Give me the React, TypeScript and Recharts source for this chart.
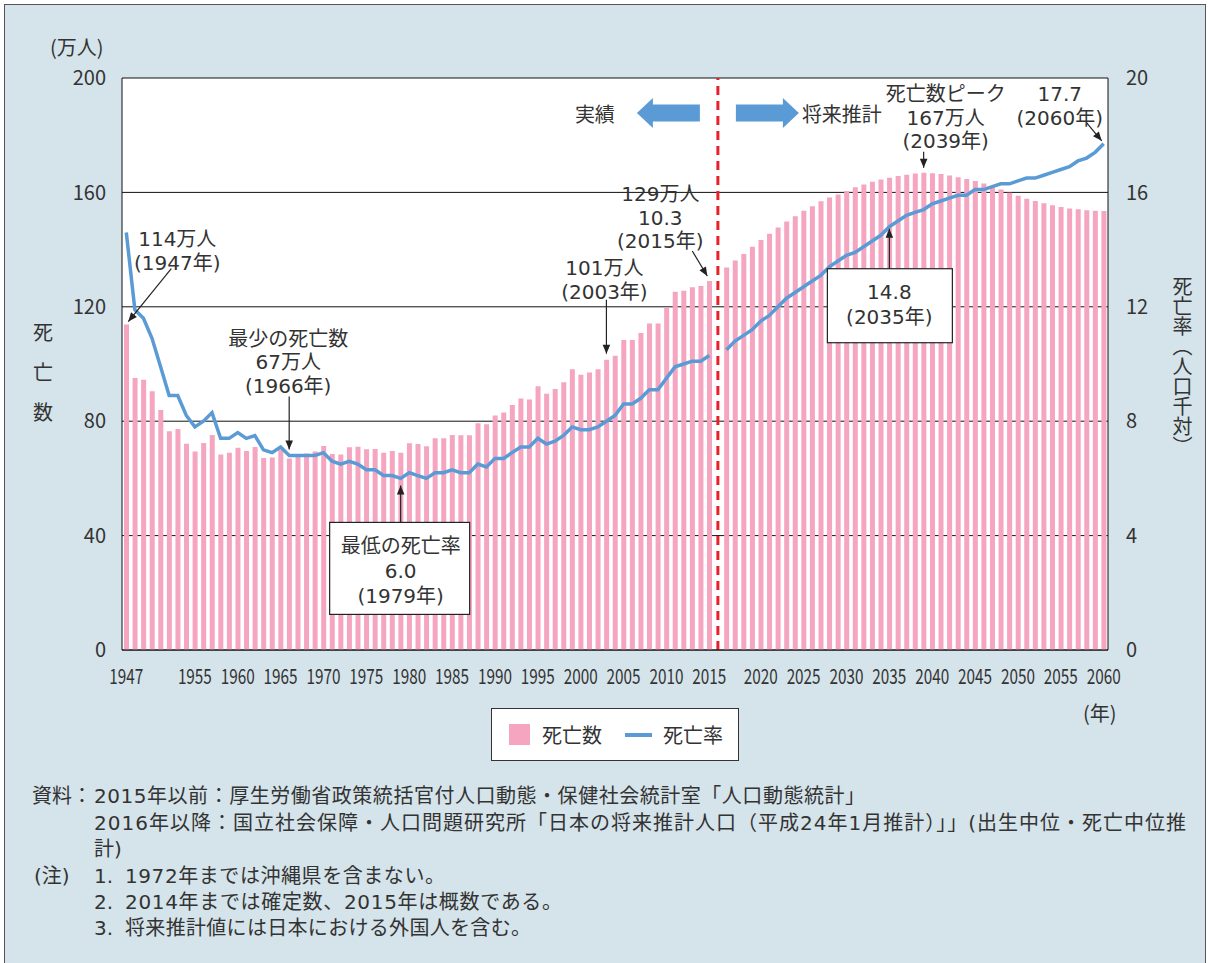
import React from 'react';
import { ComposedChart, Bar, Line, XAxis, YAxis, CartesianGrid, ReferenceLine, ReferenceDot } from 'recharts';

const FONT = '"Noto Sans CJK JP", "Noto Sans", sans-serif';
const LFONT = '"DejaVu Sans", "Noto Sans CJK JP", sans-serif';
const TXT = '#333';

// Actual years (1947-2015) and projection years (2016-2060)
const actualYears = [
  1947, 1948, 1949, 1950, 1951, 1952, 1953, 1954, 1955, 1956, 1957, 1958, 1959, 1960, 1961, 1962, 1963, 1964, 1965, 1966,
  1967, 1968, 1969, 1970, 1971, 1972, 1973, 1974, 1975, 1976, 1977, 1978, 1979, 1980, 1981, 1982, 1983, 1984, 1985, 1986,
  1987, 1988, 1989, 1990, 1991, 1992, 1993, 1994, 1995, 1996, 1997, 1998, 1999, 2000, 2001, 2002, 2003, 2004, 2005, 2006,
  2007, 2008, 2009, 2010, 2011, 2012, 2013, 2014, 2015,
];
const projYears = [
  2016, 2017, 2018, 2019, 2020, 2021, 2022, 2023, 2024, 2025, 2026, 2027, 2028, 2029, 2030, 2031, 2032, 2033, 2034, 2035,
  2036, 2037, 2038, 2039, 2040, 2041, 2042, 2043, 2044, 2045, 2046, 2047, 2048, 2049, 2050, 2051, 2052, 2053, 2054, 2055,
  2056, 2057, 2058, 2059, 2060,
];
const GAP = '|';

// 死亡数 (万人)
const deathsActual = [
  113.8, 95.1, 94.5, 90.5, 83.9, 76.5, 77.3, 72.1, 69.4, 72.4, 75.2, 68.4, 69.0, 70.7, 69.6, 71.0, 67.1, 67.3, 70.0, 67.0,
  67.5, 68.7, 69.4, 71.3, 68.5, 68.4, 70.9, 71.1, 70.2, 70.3, 69.0, 69.6, 69.0, 72.3, 72.0, 71.2, 74.0, 74.0, 75.2, 75.1,
  75.1, 79.3, 78.9, 82.0, 83.0, 85.7, 87.9, 87.6, 92.2, 89.6, 91.3, 93.6, 98.2, 96.2, 97.0, 98.2, 101.5, 102.9, 108.4, 108.4,
  110.8, 114.2, 114.2, 119.7, 125.3, 125.6, 126.8, 127.3, 129.0,
];
const deathsProj = [
  133.7, 136.2, 138.5, 141.0, 143.4, 145.5, 147.7, 149.8, 151.7, 153.6, 155.2, 156.9, 158.2, 159.3, 160.5, 161.8, 162.8, 163.7, 164.5, 165.1,
  165.7, 166.2, 166.6, 166.9, 166.7, 166.4, 165.9, 165.3, 164.7, 164.0, 163.1, 162.1, 161.0, 159.9, 158.8, 157.8, 157.0, 156.2, 155.5, 154.9,
  154.4, 154.1, 153.8, 153.6, 153.5,
];

// 死亡率 (人口千対)
const rateActual = [
  14.6, 11.9, 11.6, 10.9, 9.9, 8.9, 8.9, 8.2, 7.8, 8.0, 8.3, 7.4, 7.4, 7.6, 7.4, 7.5, 7.0, 6.9, 7.1, 6.8,
  6.8, 6.8, 6.8, 6.9, 6.6, 6.5, 6.6, 6.5, 6.3, 6.3, 6.1, 6.1, 6.0, 6.2, 6.1, 6.0, 6.2, 6.2, 6.3, 6.2,
  6.2, 6.5, 6.4, 6.7, 6.7, 6.9, 7.1, 7.1, 7.4, 7.2, 7.3, 7.5, 7.8, 7.7, 7.7, 7.8, 8.0, 8.2, 8.6, 8.6,
  8.8, 9.1, 9.1, 9.5, 9.9, 10.0, 10.1, 10.1, 10.3,
];
const rateProj = [
  10.5, 10.8, 11.0, 11.2, 11.5, 11.7, 12.0, 12.3, 12.5, 12.7, 12.9, 13.1, 13.4, 13.6, 13.8, 13.9, 14.1, 14.3, 14.5, 14.8,
  15.0, 15.2, 15.3, 15.4, 15.6, 15.7, 15.8, 15.9, 15.9, 16.1, 16.1, 16.2, 16.3, 16.3, 16.4, 16.5, 16.5, 16.6, 16.7, 16.8,
  16.9, 17.1, 17.2, 17.4, 17.7,
];

const xTickLabels = [
  '1947', '1955', '1960', '1965', '1970', '1975', '1980', '1985', '1990', '1995', '2000', '2005', '2010', '2015',
  '2020', '2025', '2030', '2035', '2040', '2045', '2050', '2055', '2060',
];
const leftTicks = [0, 40, 80, 120, 160, 200];
const rightTicks = [0, 4, 8, 12, 16, 20];

const data = [
  ...actualYears.map((y, i) => ({ year: String(y), deaths: deathsActual[i], rateA: rateActual[i], rateP: null as number | null })),
  { year: GAP, deaths: null as number | null, rateA: null as number | null, rateP: null as number | null },
  ...projYears.map((y, i) => ({ year: String(y), deaths: deathsProj[i], rateA: null as number | null, rateP: rateProj[i] })),
];

const XTick = (props: any) => {
  const { x, y, payload } = props;
  if (!xTickLabels.includes(payload.value)) return <g />;
  return (
    <text x={x} y={y + 34} textAnchor="middle" fontSize={21} fill={TXT} fontFamily={FONT}
      textLength={34} lengthAdjust="spacingAndGlyphs">{payload.value}</text>
  );
};

type AnnoCfg = {
  lines: string[];
  tx: number; ty: number; lh: number;
  arrow: [number, number, number, number];
  box?: [number, number, number, number];
};

const arrowHead = (x1: number, y1: number, x2: number, y2: number) => {
  const a = Math.atan2(y2 - y1, x2 - x1);
  const L = 9, W = 3.8;
  const bx = x2 - L * Math.cos(a), by = y2 - L * Math.sin(a);
  const px = -Math.sin(a) * W, py = Math.cos(a) * W;
  return `${x2},${y2} ${bx + px},${by + py} ${bx - px},${by - py}`;
};

const makeAnno = (c: AnnoCfg) => (p: any) => {
  const { cx, cy } = p;
  const [ax1, ay1, ax2, ay2] = c.arrow;
  return (
    <g>
      {c.box && (
        <rect x={cx + c.box[0]} y={cy + c.box[1]} width={c.box[2]} height={c.box[3]} fill="#fff" stroke="#222" strokeWidth={1.2} />
      )}
      <line x1={cx + ax1} y1={cy + ay1} x2={cx + ax2} y2={cy + ay2} stroke="#222" strokeWidth={1.2} />
      <polygon points={arrowHead(cx + ax1, cy + ay1, cx + ax2, cy + ay2)} fill="#222" />
      {c.lines.map((t, i) => (
        <text key={i} x={cx + c.tx} y={cy + c.ty + i * c.lh + 7} textAnchor="middle" fontSize={20} fill={TXT} fontFamily={LFONT}>{t}</text>
      ))}
    </g>
  );
};

const annos: { x: string; y: number; axis: string; cfg: AnnoCfg }[] = [
  { x: '1947', y: deathsActual[0], axis: 'left', cfg: { lines: ['114万人', '(1947年)'], tx: 51, ty: -85.25, lh: 23.5, arrow: [45, -56, 2, -3] } },
  { x: '1966', y: deathsActual[19], axis: 'left', cfg: { lines: ['最少の死亡数', '67万人', '(1966年)'], tx: -1, ty: -119.5, lh: 23.5, arrow: [0, -62, 0, -9] } },
  { x: '1979', y: rateActual[32], axis: 'right', cfg: { lines: ['最低の死亡率', '6.0', '(1979年)'], tx: 0, ty: 68, lh: 25, arrow: [0, 44, 0, 7], box: [-71, 44, 140, 92] } },
  { x: '2003', y: deathsActual[56], axis: 'left', cfg: { lines: ['101万人', '(2003年)'], tx: -2, ty: -91.25, lh: 23.5, arrow: [0, -60, 0, -6] } },
  { x: '2015', y: deathsActual[68], axis: 'left', cfg: { lines: ['129万人', '10.3', '(2015年)'], tx: -49, ty: -87, lh: 23.5, arrow: [-17, -30, -2, -5] } },
  { x: '2035', y: rateProj[19], axis: 'right', cfg: { lines: ['14.8', '(2035年)'], tx: 0, ty: 65, lh: 25, arrow: [0, 42, 0, 2], box: [-62, 42, 125, 74] } },
  { x: '2039', y: deathsProj[23], axis: 'left', cfg: { lines: ['死亡数ピーク', '167万人', '(2039年)'], tx: 22, ty: -78.5, lh: 23.5, arrow: [0, -21, 0, -5] } },
  { x: '2060', y: rateProj[44], axis: 'right', cfg: { lines: ['17.7', '(2060年)'], tx: -44, ty: -49.75, lh: 23.5, arrow: [-17, -21, -2, -3] } },
];

const DividerLabel = (p: any) => {
  const { viewBox } = p;
  const x = viewBox.x;
  const yc = viewBox.y + 35;
  const blue = '#5b9bd5';
  const leftArrow = `${x - 81},${yc} ${x - 65},${yc - 15} ${x - 65},${yc - 8.5} ${x - 18},${yc - 8.5} ${x - 18},${yc + 8.5} ${x - 65},${yc + 8.5} ${x - 65},${yc + 15}`;
  const rightArrow = `${x + 81},${yc} ${x + 65},${yc - 15} ${x + 65},${yc - 8.5} ${x + 18},${yc - 8.5} ${x + 18},${yc + 8.5} ${x + 65},${yc + 8.5} ${x + 65},${yc + 15}`;
  return (
    <g>
      <polygon points={leftArrow} fill={blue} />
      <polygon points={rightArrow} fill={blue} />
      <text x={x - 103} y={yc} textAnchor="end" dominantBaseline="central" fontSize={20} fill={TXT} fontFamily={FONT}>実績</text>
      <text x={x + 84} y={yc} textAnchor="start" dominantBaseline="central" fontSize={20} fill={TXT} fontFamily={FONT}>将来推計</text>
    </g>
  );
};

const notes: { x: number; y: number; text: string; len?: number }[] = [
  { x: 32, y: 803, text: '資料：' },
  { x: 94, y: 803, text: '2015年以前：厚生労働省政策統括官付人口動態・保健社会統計室「人口動態統計」', len: 771 },
  { x: 94, y: 830, text: '2016年以降：国立社会保障・人口問題研究所「日本の将来推計人口（平成24年1月推計）」」(出生中位・死亡中位推', len: 1092 },
  { x: 94, y: 856, text: '計)' },
  { x: 34, y: 883, text: '(注)' },
  { x: 94, y: 883, text: '1.' },
  { x: 125, y: 883, text: '1972年までは沖縄県を含まない。', len: 320 },
  { x: 94, y: 909, text: '2.' },
  { x: 125, y: 909, text: '2014年までは確定数、2015年は概数である。', len: 437 },
  { x: 94, y: 935, text: '3.' },
  { x: 125, y: 935, text: '将来推計値には日本における外国人を含む。', len: 406 },
];

export default function App() {
  return (
    <div style={{ position: 'absolute', left: 0, top: 0, width: 1208, height: 963, background: '#fff', overflow: 'hidden', fontFamily: FONT }}>
      <div style={{ position: 'absolute', left: 4, top: 4, width: 1200, height: 980, background: '#d5e3ea', border: '1px solid #555' }} />
      <div style={{ position: 'absolute', left: 0, top: 0 }}>
        <ComposedChart width={1208} height={700} data={data} margin={{ top: 78, right: 0, bottom: 0, left: 0 }}>
          <CartesianGrid yAxisId="left" vertical={false} horizontal stroke="#111" strokeWidth={1} fill="#fff" fillOpacity={1} />
          <XAxis dataKey="year" type="category" interval={0} height={50} tickSize={0} tickMargin={0}
            axisLine={{ stroke: '#111' }} tick={<XTick />} />
          <YAxis yAxisId="left" orientation="left" width={122} domain={[0, 200]} ticks={leftTicks} tickSize={0} tickMargin={16}
            axisLine={{ stroke: '#111' }} tick={{ fontSize: 20, fill: TXT, fontFamily: FONT }} />
          <YAxis yAxisId="right" orientation="right" width={100} domain={[0, 20]} ticks={rightTicks} tickSize={0} tickMargin={18}
            axisLine={{ stroke: '#111' }} tick={{ fontSize: 20, fill: TXT, fontFamily: FONT, textAnchor: 'start' }} />
          <Bar yAxisId="left" dataKey="deaths" fill="#f5a5c0" barSize={5} isAnimationActive={false} />
          <Line yAxisId="right" dataKey="rateA" stroke="#5b9bd5" strokeWidth={3.5} dot={false} isAnimationActive={false} connectNulls={false} />
          <Line yAxisId="right" dataKey="rateP" stroke="#5b9bd5" strokeWidth={3.5} dot={false} isAnimationActive={false} connectNulls={false} />
          <ReferenceLine yAxisId="left" x={GAP} stroke="#e8202a" strokeWidth={3} strokeDasharray="9 6" label={<DividerLabel />} />
          {annos.map((a, i) => (
            <ReferenceDot key={i} x={a.x} y={a.y} yAxisId={a.axis} ifOverflow="visible" shape={makeAnno(a.cfg)} />
          ))}
        </ComposedChart>
      </div>

      {/* axis titles */}
      <div style={{ position: 'absolute', left: 50, top: 32, fontSize: 20, color: TXT, whiteSpace: 'nowrap' }}>(万人)</div>
      <div style={{ position: 'absolute', left: 33, top: 312, fontSize: 20, color: TXT, lineHeight: '40px', width: 20, textAlign: 'center' }}>
        <div>死</div><div>亡</div><div>数</div>
      </div>
      <div style={{ position: 'absolute', left: 1168, top: 276, fontSize: 20, color: TXT, writingMode: 'vertical-rl', whiteSpace: 'nowrap' }}>死亡率（人口千対）</div>
      <div style={{ position: 'absolute', left: 1083, top: 698, fontSize: 20, color: TXT, whiteSpace: 'nowrap' }}>(年)</div>

      {/* legend */}
      <div style={{ position: 'absolute', left: 491, top: 708, width: 248, height: 53, background: '#fff', border: '1px solid #333', boxSizing: 'border-box' }}>
        <div style={{ position: 'absolute', left: 17, top: 15, width: 21, height: 21, background: '#f5a5c0' }} />
        <div style={{ position: 'absolute', left: 50, top: 12, fontSize: 20, color: TXT, whiteSpace: 'nowrap', lineHeight: '28px' }}>死亡数</div>
        <div style={{ position: 'absolute', left: 133, top: 24, width: 27, height: 4, background: '#5b9bd5' }} />
        <div style={{ position: 'absolute', left: 171, top: 12, fontSize: 20, color: TXT, whiteSpace: 'nowrap', lineHeight: '28px' }}>死亡率</div>
      </div>

      {/* notes */}
      <svg width={1208} height={963} style={{ position: 'absolute', left: 0, top: 0, pointerEvents: 'none' }}>
        {notes.map((n, i) => (
          <text key={i} x={n.x} y={n.y} fontSize={20} fill={TXT} fontFamily={LFONT}
            {...(n.len ? { textLength: n.len, lengthAdjust: 'spacing' } : {})}>{n.text}</text>
        ))}
      </svg>
    </div>
  );
}
